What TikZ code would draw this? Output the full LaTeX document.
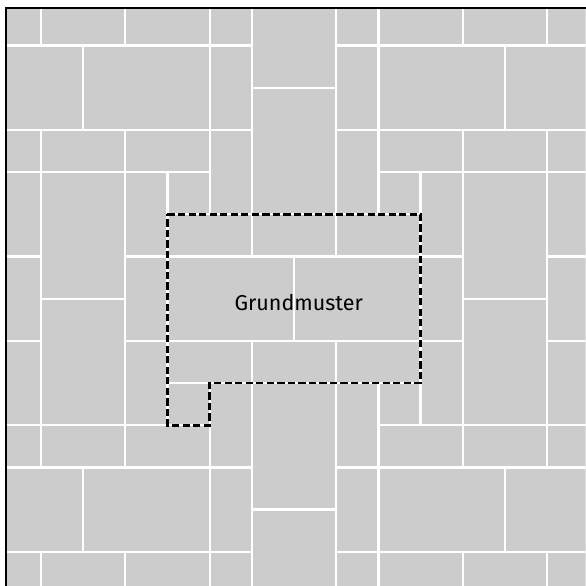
\documentclass[tikz,border=0pt]{standalone}
\usepackage{fontspec}
\newfontfamily\labelfont{Fira Sans}
\definecolor{tilegray}{gray}{0.8}

\begin{document}
\begin{tikzpicture}[
        y=-1cm,
        tile/.style={fill=tilegray, draw=white, line width=1.55pt},
        frame/.style={draw=black, line width=1.8pt},
        pattern/.style={draw=black, line width=1.8pt, dash pattern=on 4.9pt off 2.2pt, line join=miter},
        label/.style={font=\labelfont\fontsize{14.5}{16}\selectfont, inner sep=0pt}
    ]
        \useasboundingbox (-3.97,-5.08) rectangle (9.91,8.81);

        \begin{scope}
        \clip (-3.83,-4.89) rectangle (9.91,8.81);

        % Top rows
        \draw[tile] (-5,-5) rectangle (-3,-4) (-3,-5) rectangle (-1,-4) (-1,-5) rectangle (1,-4)
            (1,-6) rectangle (2,-4) (2,-6) rectangle (4,-3) (4,-6) rectangle (5,-4)
            (5,-5) rectangle (7,-4) (7,-5) rectangle (9,-4) (9,-5) rectangle (11,-4);
        \draw[tile] (-5,-4) rectangle (-2,-2) (-2,-4) rectangle (1,-2) (1,-4) rectangle (2,-2)
            (4,-4) rectangle (5,-2) (5,-4) rectangle (8,-2) (8,-4) rectangle (11,-2);
        \draw[tile] (-5,-2) rectangle (-3,-1) (-3,-2) rectangle (-1,-1) (-1,-2) rectangle (1,-1)
            (1,-2) rectangle (2,0) (2,-3) rectangle (4,0) (4,-2) rectangle (5,0)
            (5,-2) rectangle (7,-1) (7,-2) rectangle (9,-1) (9,-2) rectangle (11,-1);
        \draw[tile] (-4,-1) rectangle (-3,1) (-3,-1) rectangle (-1,2) (-1,-1) rectangle (0,1)
            (0,-1) rectangle (1,0) (5,-1) rectangle (6,0) (6,-1) rectangle (7,1)
            (7,-1) rectangle (9,2) (9,-1) rectangle (10,1);

        % Grundmuster
        \draw[tile] (0,0) rectangle (2,1) (2,0) rectangle (4,1) (4,0) rectangle (6,1)
            (0,1) rectangle (3,3) (3,1) rectangle (6,3)
            (0,3) rectangle (2,4) (2,3) rectangle (4,4) (4,3) rectangle (6,4)
            (0,4) rectangle (1,5);

        % Sides
        \draw[tile] (-4,1) rectangle (-3,3) (-1,1) rectangle (0,3) (6,1) rectangle (7,3) (9,1) rectangle (10,3)
            (-3,2) rectangle (-1,5) (7,2) rectangle (9,5)
            (-4,3) rectangle (-3,5) (-1,3) rectangle (0,5) (6,3) rectangle (7,5) (9,3) rectangle (10,5);
        \draw[tile] (1,4) rectangle (2,6) (2,4) rectangle (4,7) (4,4) rectangle (5,6) (5,4) rectangle (6,5);

        % Bottom rows
        \draw[tile] (-5,5) rectangle (-3,6) (-3,5) rectangle (-1,6) (-1,5) rectangle (1,6)
            (5,5) rectangle (7,6) (7,5) rectangle (9,6) (9,5) rectangle (11,6);
        \draw[tile] (-5,6) rectangle (-2,8) (-2,6) rectangle (1,8) (1,6) rectangle (2,8)
            (4,6) rectangle (5,8) (5,6) rectangle (8,8) (8,6) rectangle (11,8) (2,7) rectangle (4,10);
        \draw[tile] (-5,8) rectangle (-3,9) (-3,8) rectangle (-1,9) (-1,8) rectangle (1,9)
            (1,8) rectangle (2,10) (4,8) rectangle (5,10)
            (5,8) rectangle (7,9) (7,8) rectangle (9,9) (9,8) rectangle (11,9);
        \end{scope}

        % Frame
        \draw[frame] (-3.83,8.81) -- (-3.83,-4.89) -- (9.91,-4.89);

        % Outline of the base pattern
        \draw[pattern] (0,0) -- (6,0) -- (6,4) -- (1,4) -- (1,5) -- (0,5) -- cycle;
        \node[label] (grund) at (3.11,2.08) {Grundmuster};
    \end{tikzpicture}
\end{document}
